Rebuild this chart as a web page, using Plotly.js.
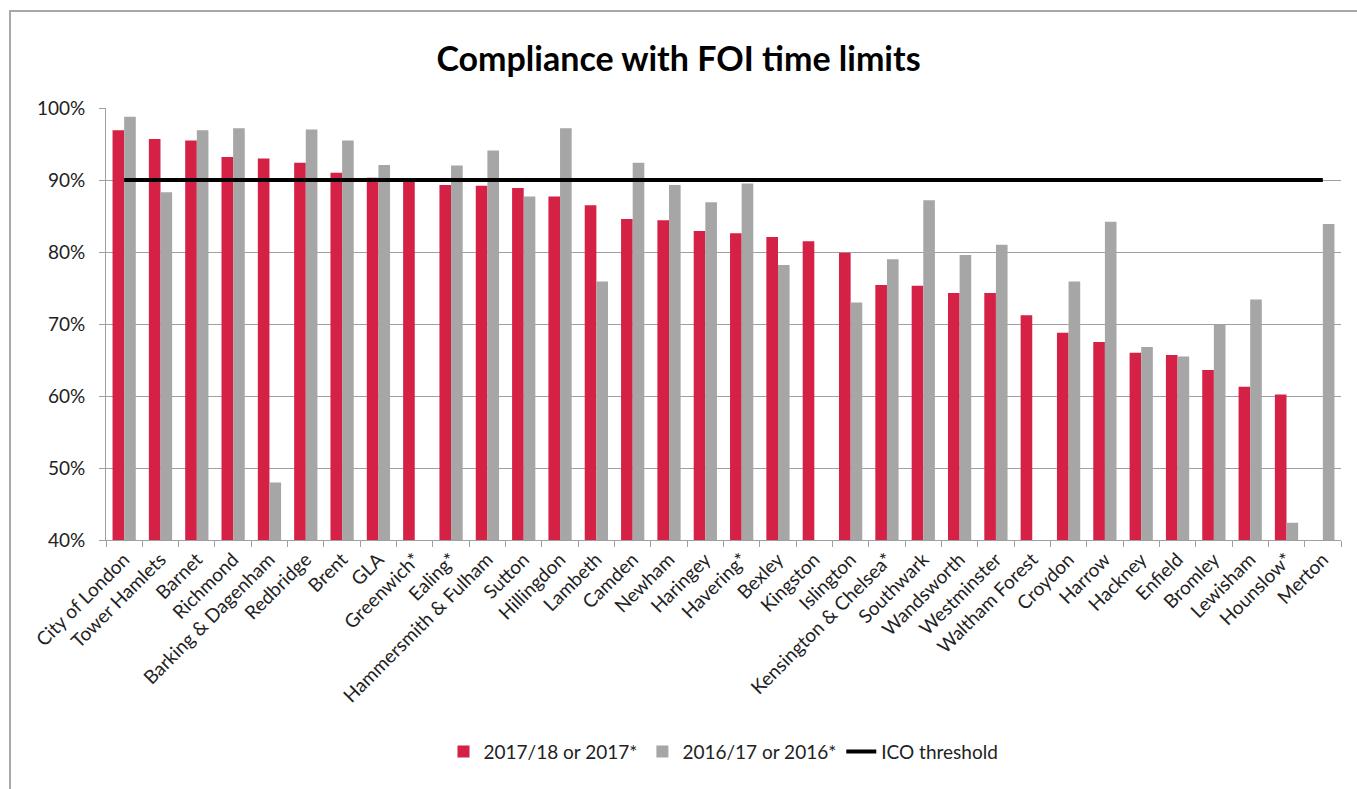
<!DOCTYPE html>
<html>
<head>
<meta charset="utf-8">
<script src="https://cdn.plot.ly/plotly-3.0.1.min.js"></script>
<style>
  html, body { margin: 0; padding: 0; background: #ffffff; }
  #wrap { position: relative; width: 1357px; height: 789px; overflow: hidden; }
  #chart { width: 1357px; height: 789px; }
  #frame { position: absolute; left: 9px; top: 10px; width: 1400px; height: 800px;
           border-left: 2px solid #a8a8a8; border-top: 2px solid #a8a8a8; pointer-events: none; }
</style>
</head>
<body>
<div id="wrap">
  <div id="chart"></div>
  <div id="frame"></div>
</div>
<script>
const categories = [
  "City of London", "Tower Hamlets", "Barnet", "Richmond", "Barking & Dagenham",
  "Redbridge", "Brent", "GLA", "Greenwich*", "Ealing*", "Hammersmith & Fulham",
  "Sutton", "Hillingdon", "Lambeth", "Camden", "Newham", "Haringey", "Havering*",
  "Bexley", "Kingston", "Islington", "Kensington & Chelsea*", "Southwark",
  "Wandsworth", "Westminster", "Waltham Forest", "Croydon", "Harrow", "Hackney",
  "Enfield", "Bromley", "Lewisham", "Hounslow*", "Merton"
];
const values2017 = [
  96.9, 95.7, 95.5, 93.2, 93.0, 92.4, 91.0, 90.3, 90.0, 89.3, 89.2,
  88.9, 87.7, 86.5, 84.6, 84.4, 82.9, 82.6, 82.1, 81.5, 79.9, 75.4,
  75.3, 74.3, 74.3, 71.2, 68.8, 67.5, 66.0, 65.7, 63.6, 61.3, 60.2, null
];
const values2016 = [
  98.8, 88.3, 96.9, 97.2, 48.0, 97.0, 95.5, 92.1, null, 92.0, 94.1,
  87.7, 97.2, 75.9, 92.4, 89.3, 86.9, 89.5, 78.2, null, 73.0, 79.0,
  87.2, 79.6, 81.0, null, 75.9, 84.2, 66.8, 65.5, 69.9, 73.4, 42.4, 83.9
];
const icoThreshold = 90;
const yTickVals = [40, 50, 60, 70, 80, 90, 100];
const yTickText = ["40%", "50%", "60%", "70%", "80%", "90%", "100%"];
const seriesNames = ["2017/18 or 2017*", "2016/17 or 2016*", "ICO threshold"];

const font = "Lato, 'Open Sans', sans-serif";

const traces = [
  {
    type: "bar", name: seriesNames[0], x: categories, y: values2017,
    marker: { color: "#d42145" }
  },
  {
    type: "bar", name: seriesNames[1], x: categories, y: values2016,
    marker: { color: "#a6a6a6" }
  },
  {
    type: "scatter", mode: "lines", name: seriesNames[2], x: categories,
    y: categories.map(() => icoThreshold),
    line: { color: "#000000", width: 4 }
  }
];

const layout = {
  width: 1357, height: 789,
  margin: { l: 106, r: 16, t: 108, b: 249 },
  paper_bgcolor: "#ffffff", plot_bgcolor: "#ffffff",
  font: { family: font, color: "#222222", size: 19 },
  title: {
    text: "<b>Compliance with FOI time limits</b>",
    font: { family: font, size: 34, color: "#000000" },
    x: 0.5, xanchor: "center", y: 0.925, yanchor: "middle"
  },
  barmode: "group",
  bargap: 0.36,
  bargroupgap: 0,
  xaxis: {
    type: "category",
    tickangle: -45,
    tickson: "boundaries",
    ticks: "outside", ticklen: 6, tickcolor: "#a0a0a0",
    showline: true, linecolor: "#a0a0a0", linewidth: 1,
    showgrid: false,
    tickfont: { family: font, size: 19, color: "#222222" },
    range: [-0.5, categories.length - 0.5]
  },
  yaxis: {
    range: [40, 100],
    tickvals: yTickVals, ticktext: yTickText,
    ticks: "outside", ticklen: 6, tickcolor: "#a0a0a0",
    ticklabelstandoff: 10,
    showline: true, linecolor: "#a0a0a0", linewidth: 1,
    showgrid: true, gridcolor: "#a0a0a0", gridwidth: 1,
    zeroline: false,
    tickfont: { family: font, size: 19, color: "#222222" }
  },
  showlegend: true,
  legend: {
    orientation: "h",
    x: 0.5, xanchor: "center",
    y: -0.49, yanchor: "middle",
    font: { family: font, size: 19, color: "#222222" },
    itemwidth: 30,
    traceorder: "normal"
  }
};

Plotly.newPlot("chart", traces, layout, { displayModeBar: false, staticPlot: true });
</script>
</body>
</html>
